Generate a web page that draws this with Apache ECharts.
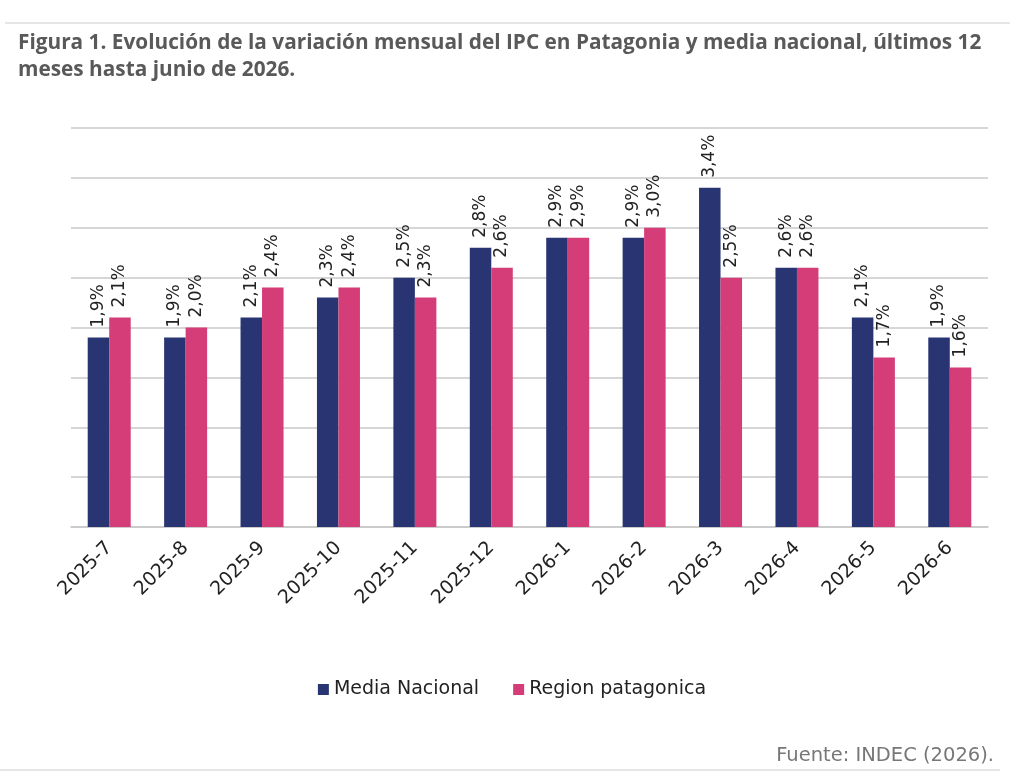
<!DOCTYPE html>
<html lang="es">
<head>
    <meta charset="utf-8"/>
    <title>IPC Patagonia</title>
    <script src="https://cdn.jsdelivr.net/npm/echarts@6/dist/echarts.min.js"></script>
    <style>
        html, body {
            height: 100%;
            margin: 0;
            background: #fff;
        }

        .chart {
            width: 1024px;
            height: 774px;
        }
    </style>
</head>
<body>
<div class="chart"></div>
<script>
    const months = ["2025-7", "2025-8", "2025-9", "2025-10", "2025-11", "2025-12",
        "2026-1", "2026-2", "2026-3", "2026-4", "2026-5", "2026-6"];
    const mediaNacional = [1.9, 1.9, 2.1, 2.3, 2.5, 2.8, 2.9, 2.9, 3.4, 2.6, 2.1, 1.9];
    const regionPatagonica = [2.1, 2.0, 2.4, 2.4, 2.3, 2.6, 2.9, 3.0, 2.5, 2.6, 1.7, 1.6];

    const font = "'DejaVu Sans', 'Noto Sans', sans-serif";
    const titleFont = "'Open Sans', 'Noto Sans', sans-serif";

    function pct(p) {
        return p.value.toFixed(1).replace(".", ",") + "%";
    }

    const barLabel = {
        show: true,
        position: "top",
        rotate: 90,
        align: "left",
        verticalAlign: "middle",
        distance: 10,
        fontFamily: font,
        fontSize: 17,
        color: "#222",
        formatter: pct
    };

    const chart = echarts.init(document.querySelector(".chart"));
    chart.setOption({
        animation: false,
        textStyle: {fontFamily: font},
        title: {
            text: "Figura 1. Evolución de la variación mensual del IPC en Patagonia y media nacional, últimos 12\nmeses hasta junio de 2026.",
            left: 13,
            top: 25,
            textStyle: {
                fontFamily: titleFont,
                fontSize: 20.8,
                fontWeight: "bold",
                color: "#595959",
                lineHeight: 27
            }
        },
        legend: {
            data: ["Media Nacional", "Region patagonica"],
            left: "center",
            top: 675,
            icon: "rect",
            itemWidth: 11,
            itemHeight: 11,
            itemGap: 34,
            textStyle: {fontFamily: font, fontSize: 19, color: "#222"}
        },
        graphic: [
            {
                type: "line",
                shape: {x1: 5, y1: 23, x2: 1010, y2: 23},
                style: {stroke: "#e6e6e6", lineWidth: 2}
            },
            {
                type: "line",
                shape: {x1: 0, y1: 770, x2: 1000, y2: 770},
                style: {stroke: "#e6e6e6", lineWidth: 2}
            },
            {
                type: "text",
                right: 30,
                top: 746,
                style: {
                    text: "Fuente: INDEC (2026).",
                    fontFamily: font,
                    fontSize: 19.5,
                    fill: "#777"
                }
            }
        ],
        grid: {
            left: 71,
            right: 36,
            top: 128,
            bottom: 247,
            containLabel: false
        },
        xAxis: {
            type: "category",
            data: months,
            axisLine: {lineStyle: {color: "#c8c8c8", width: 1.5}},
            axisTick: {show: false},
            axisLabel: {
                rotate: 45,
                interval: 0,
                margin: 18,
                fontFamily: font,
                fontSize: 19,
                color: "#222"
            }
        },
        yAxis: {
            type: "value",
            min: 0,
            max: 4,
            interval: 0.5,
            axisLabel: {show: false},
            axisLine: {show: false},
            axisTick: {show: false},
            splitLine: {lineStyle: {color: "#c8c8c8", width: 1.5}}
        },
        series: [
            {
                name: "Media Nacional",
                type: "bar",
                data: mediaNacional,
                barWidth: 21.5,
                barGap: "0%",
                itemStyle: {color: "#283572"},
                label: barLabel
            },
            {
                name: "Region patagonica",
                type: "bar",
                data: regionPatagonica,
                barWidth: 21.5,
                barGap: "0%",
                itemStyle: {color: "#d43d77"},
                label: barLabel
            }
        ]
    });
</script>
</body>
</html>
